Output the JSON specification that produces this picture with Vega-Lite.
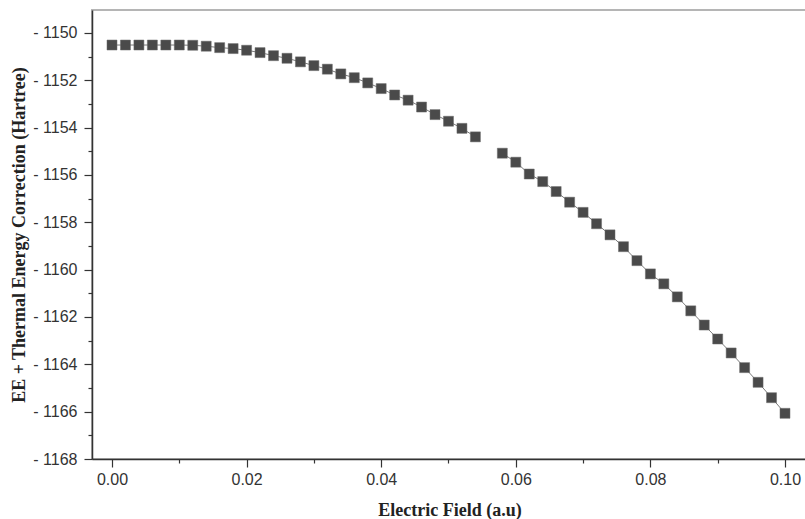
{
  "$schema": "https://vega.github.io/schema/vega-lite/v6.json",
  "autosize": "none",
  "width": 715,
  "height": 449,
  "padding": {"left": 92, "top": 10, "right": 0, "bottom": 60},
  "background": "white",
  "config": {
    "view": {"stroke": "#b5b5b5", "strokeWidth": 2},
    "axis": {"grid": false, "domainColor": "#333333", "domainWidth": 1.5, "tickColor": "#333333", "tickWidth": 1.2, "labelColor": "#333333", "labelFont": "Liberation Sans", "labelFontSize": 16, "titleFont": "Liberation Serif", "titleFontWeight": "bold", "titleFontSize": 18, "titleColor": "#222222"}
  },
  "data": {"values": [
    {"x": 0.000, "y": -1150.51},
    {"x": 0.002, "y": -1150.51},
    {"x": 0.004, "y": -1150.51},
    {"x": 0.006, "y": -1150.51},
    {"x": 0.008, "y": -1150.51},
    {"x": 0.010, "y": -1150.51},
    {"x": 0.012, "y": -1150.52},
    {"x": 0.014, "y": -1150.56},
    {"x": 0.016, "y": -1150.62},
    {"x": 0.018, "y": -1150.66},
    {"x": 0.020, "y": -1150.73},
    {"x": 0.022, "y": -1150.83},
    {"x": 0.024, "y": -1150.96},
    {"x": 0.026, "y": -1151.07},
    {"x": 0.028, "y": -1151.22},
    {"x": 0.030, "y": -1151.38},
    {"x": 0.032, "y": -1151.53},
    {"x": 0.034, "y": -1151.73},
    {"x": 0.036, "y": -1151.89},
    {"x": 0.038, "y": -1152.11},
    {"x": 0.040, "y": -1152.35},
    {"x": 0.042, "y": -1152.62},
    {"x": 0.044, "y": -1152.84},
    {"x": 0.046, "y": -1153.13},
    {"x": 0.048, "y": -1153.45},
    {"x": 0.050, "y": -1153.73},
    {"x": 0.052, "y": -1154.03},
    {"x": 0.054, "y": -1154.39},
    {"x": 0.056, "y": null},
    {"x": 0.058, "y": -1155.08},
    {"x": 0.060, "y": -1155.46},
    {"x": 0.062, "y": -1155.96},
    {"x": 0.064, "y": -1156.28},
    {"x": 0.066, "y": -1156.70},
    {"x": 0.068, "y": -1157.15},
    {"x": 0.070, "y": -1157.58},
    {"x": 0.072, "y": -1158.06},
    {"x": 0.074, "y": -1158.53},
    {"x": 0.076, "y": -1159.03},
    {"x": 0.078, "y": -1159.62},
    {"x": 0.080, "y": -1160.18},
    {"x": 0.082, "y": -1160.60},
    {"x": 0.084, "y": -1161.15},
    {"x": 0.086, "y": -1161.74},
    {"x": 0.088, "y": -1162.34},
    {"x": 0.090, "y": -1162.93},
    {"x": 0.092, "y": -1163.52},
    {"x": 0.094, "y": -1164.14},
    {"x": 0.096, "y": -1164.76},
    {"x": 0.098, "y": -1165.41},
    {"x": 0.100, "y": -1166.07}
  ]},
  "layer": [
    {
      "mark": {"type": "line", "color": "#7a7a7a", "strokeWidth": 1},
      "encoding": {
        "x": {"field": "x", "type": "quantitative", "scale": {"domain": [-0.00297, 0.10327], "nice": false, "zero": false},
              "axis": {"orient": "bottom", "values": [0.01, 0.03, 0.05, 0.07, 0.09], "labels": false, "tickSize": 4, "domain": false, "title": null}},
        "y": {"field": "y", "type": "quantitative", "scale": {"domain": [-1168, -1149.03], "nice": false, "zero": false},
              "axis": {"orient": "left", "values": [-1167, -1165, -1163, -1161, -1159, -1157, -1155, -1153, -1151], "labels": false, "tickSize": 4, "domain": false, "title": null}}
      }
    },
    {
      "mark": {"type": "square", "size": 100, "color": "#4a4a4a", "opacity": 1, "stroke": "#6a6a6a", "strokeWidth": 0.5},
      "encoding": {
        "x": {"field": "x", "type": "quantitative",
              "axis": {"orient": "bottom", "values": [0, 0.02, 0.04, 0.06, 0.08, 0.1], "format": ".2f", "tickSize": 8, "labelPadding": 4, "title": "Electric Field (a.u)", "titlePadding": 14}},
        "y": {"field": "y", "type": "quantitative",
              "axis": {"orient": "left", "values": [-1168, -1166, -1164, -1162, -1160, -1158, -1156, -1154, -1152, -1150], "labelExpr": "'- ' + abs(datum.value)", "tickSize": 8, "labelPadding": 7, "title": "EE + Thermal Energy Correction (Hartree)", "titlePadding": 4}}
      }
    }
  ],
  "resolve": {"axis": {"x": "independent", "y": "independent"}}
}
